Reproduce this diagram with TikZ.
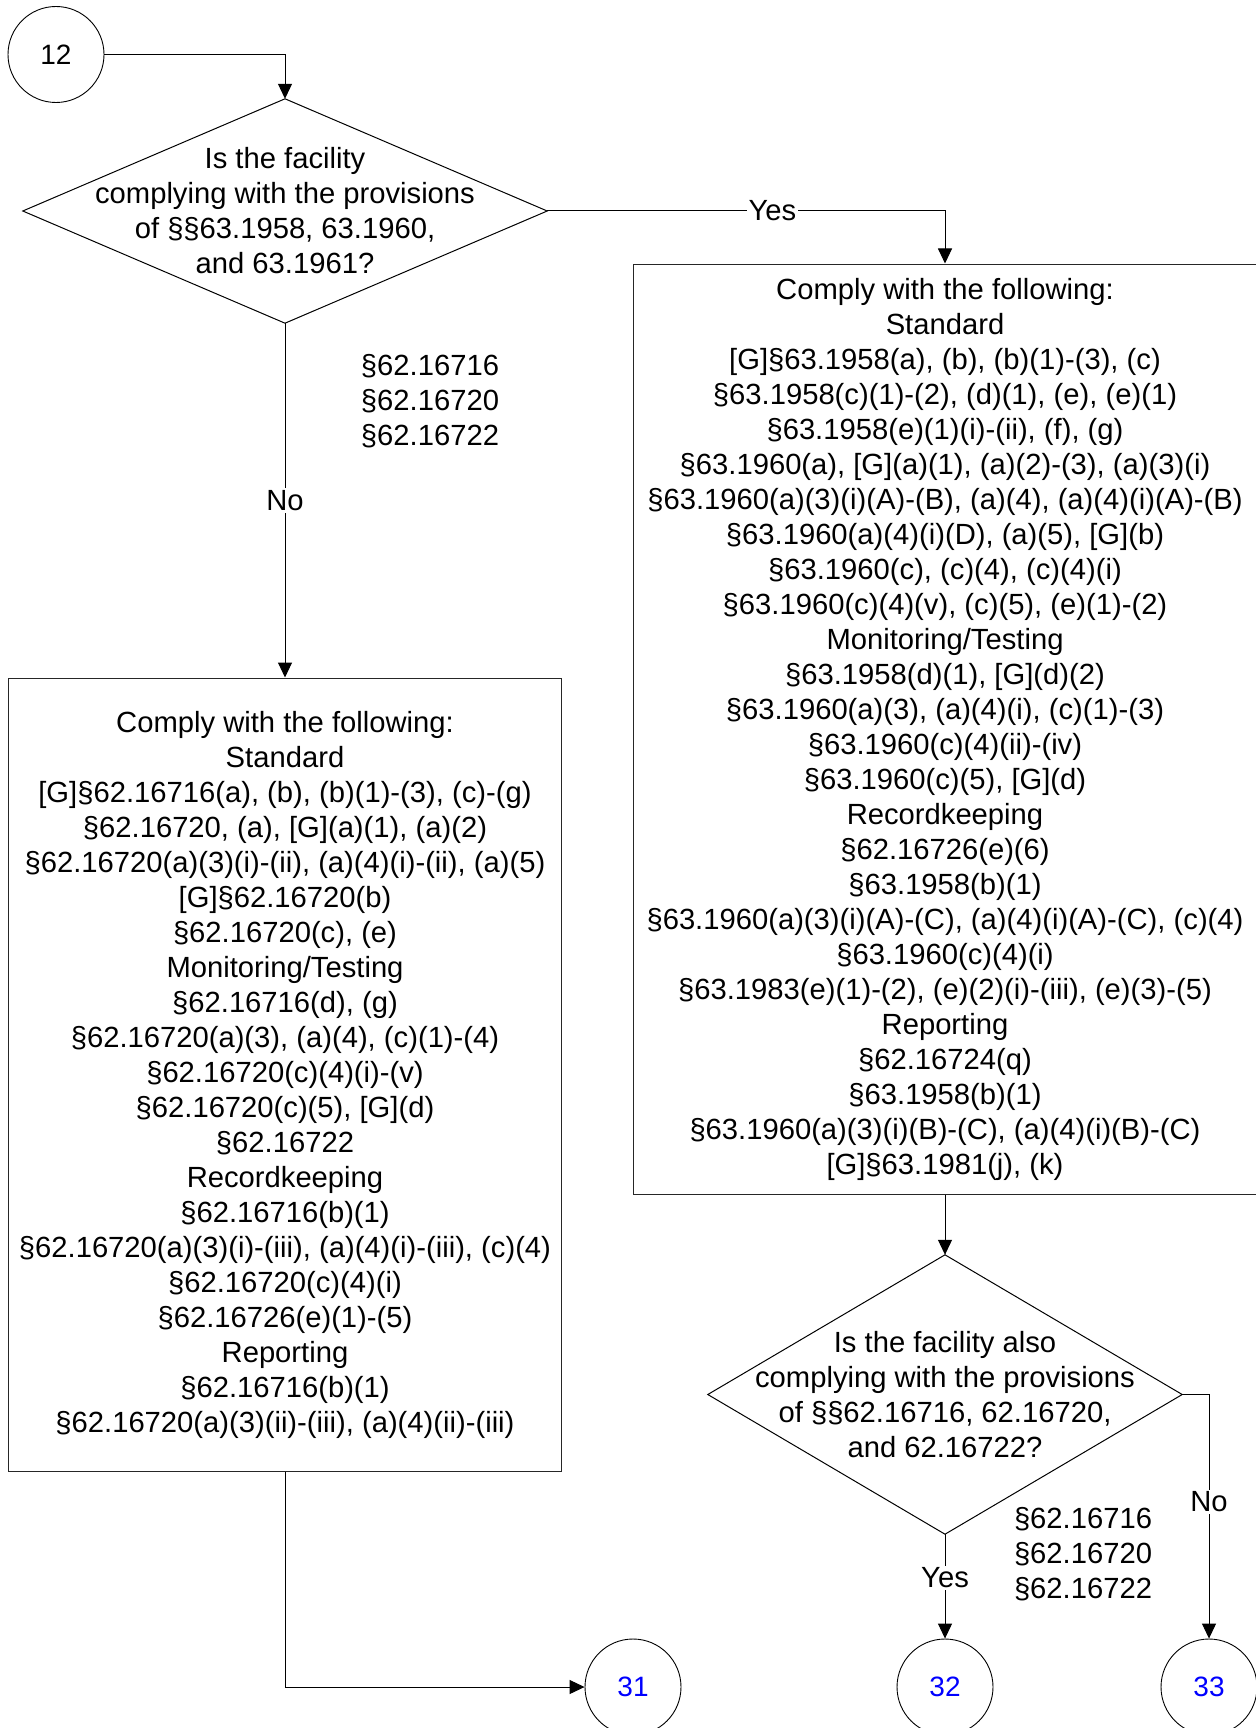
\documentclass[tikz,border=0pt]{standalone}
\usepackage{fontspec}
\setmainfont{Liberation Sans}
\usetikzlibrary{arrows.meta}
\definecolor{linkblue}{RGB}{0,0,255}
\tikzset{
  base/.style={font=\fontsize{29.2pt}{35pt}\selectfont},
  conn/.style={line width=1pt, draw=black},
  arr/.style={conn, -{Triangle[length=15pt,width=14pt]}},
  boxnode/.style={base, draw=black!85, line width=1pt, align=center, inner sep=0pt},
  dianode/.style={base, align=center, inner sep=0pt},
  circ/.style={circle, draw=black, line width=0.9pt, minimum size=96pt, inner sep=0pt, font=\fontsize{28pt}{32pt}\selectfont},
  lbl/.style={base, fill=white, inner sep=2pt},
  side/.style={base, align=center, inner sep=0pt}
}
\begin{document}
\begin{tikzpicture}[x=1pt,y=-1pt]
\useasboundingbox (0,0) rectangle (1255,1728);

% nodes
\node[circ] (c12) at (56,54.5) {12};
\node[dianode, minimum width=524pt, minimum height=224pt] (d1) at (285,211)
  {Is the facility\\complying with the provisions\\of §§63.1958, 63.1960,\\and 63.1961?};
\draw[conn] (d1.north) -- (d1.east) -- (d1.south) -- (d1.west) -- cycle;

\node[boxnode, minimum width=624pt, minimum height=930pt] (b2) at (945,729)
  {Comply with the following:\\
   Standard\\{}%
   [G]§63.1958(a), (b), (b)(1)-(3), (c)\\
   §63.1958(c)(1)-(2), (d)(1), (e), (e)(1)\\
   §63.1958(e)(1)(i)-(ii), (f), (g)\\
   §63.1960(a), [G](a)(1), (a)(2)-(3), (a)(3)(i)\\
   §63.1960(a)(3)(i)(A)-(B), (a)(4), (a)(4)(i)(A)-(B)\\
   §63.1960(a)(4)(i)(D), (a)(5), [G](b)\\
   §63.1960(c), (c)(4), (c)(4)(i)\\
   §63.1960(c)(4)(v), (c)(5), (e)(1)-(2)\\
   Monitoring/Testing\\
   §63.1958(d)(1), [G](d)(2)\\
   §63.1960(a)(3), (a)(4)(i), (c)(1)-(3)\\
   §63.1960(c)(4)(ii)-(iv)\\
   §63.1960(c)(5), [G](d)\\
   Recordkeeping\\
   §62.16726(e)(6)\\
   §63.1958(b)(1)\\
   §63.1960(a)(3)(i)(A)-(C), (a)(4)(i)(A)-(C), (c)(4)\\
   §63.1960(c)(4)(i)\\
   §63.1983(e)(1)-(2), (e)(2)(i)-(iii), (e)(3)-(5)\\
   Reporting\\
   §62.16724(q)\\
   §63.1958(b)(1)\\
   §63.1960(a)(3)(i)(B)-(C), (a)(4)(i)(B)-(C)\\{}%
   [G]§63.1981(j), (k)};

\node[boxnode, minimum width=553pt, minimum height=793pt] (b1) at (285,1074.5)
  {Comply with the following:\\
   Standard\\{}%
   [G]§62.16716(a), (b), (b)(1)-(3), (c)-(g)\\
   §62.16720, (a), [G](a)(1), (a)(2)\\
   §62.16720(a)(3)(i)-(ii), (a)(4)(i)-(ii), (a)(5)\\{}%
   [G]§62.16720(b)\\
   §62.16720(c), (e)\\
   Monitoring/Testing\\
   §62.16716(d), (g)\\
   §62.16720(a)(3), (a)(4), (c)(1)-(4)\\
   §62.16720(c)(4)(i)-(v)\\
   §62.16720(c)(5), [G](d)\\
   §62.16722\\
   Recordkeeping\\
   §62.16716(b)(1)\\
   §62.16720(a)(3)(i)-(iii), (a)(4)(i)-(iii), (c)(4)\\
   §62.16720(c)(4)(i)\\
   §62.16726(e)(1)-(5)\\
   Reporting\\
   §62.16716(b)(1)\\
   §62.16720(a)(3)(ii)-(iii), (a)(4)(ii)-(iii)};

\node[dianode, minimum width=474pt, minimum height=279pt] (d2) at (945,1394.5)
  {Is the facility also\\complying with the provisions\\of §§62.16716, 62.16720,\\and 62.16722?};
\draw[conn] (d2.north) -- (d2.east) -- (d2.south) -- (d2.west) -- cycle;

\node[circ, text=linkblue] (c31) at (633,1687) {31};
\node[circ, text=linkblue] (c32) at (945,1687) {32};
\node[circ, text=linkblue] (c33) at (1209,1687) {33};

\node[side] (s1) at (430,401) {§62.16716\\§62.16720\\§62.16722};
\node[side] (s2) at (1083,1554) {§62.16716\\§62.16720\\§62.16722};

% connectors
\draw[arr] (c12.east) -| (d1.north);
\draw[arr] (d1.east) -| (b2.north) node[lbl, pos=0.283] {Yes};
\draw[arr] (d1.south) -- (b1.north) node[lbl, pos=0.5] {No};
\draw[arr] (b2.south) -- (d2.north);
\draw[arr] (d2.south) -- (c32.north) node[lbl, pos=0.42] {Yes};
\draw[arr] (d2.east) -| (c33.north) node[lbl, pos=0.72] {No};
\draw[arr] (b1.south) |- (c31.west);
\end{tikzpicture}
\end{document}
